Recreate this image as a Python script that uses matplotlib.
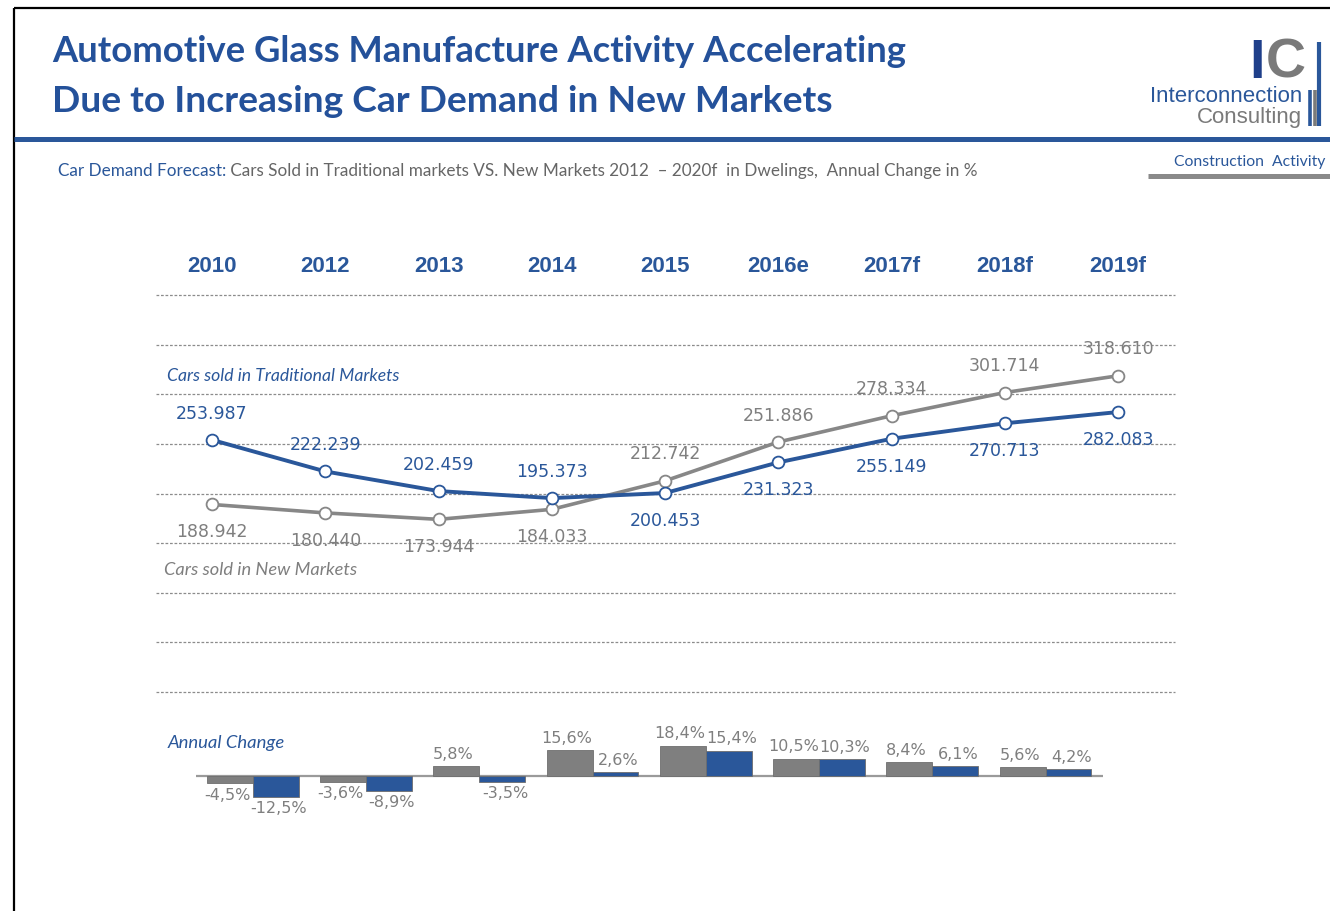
import matplotlib.pyplot as plt
from matplotlib.lines import Line2D
import numpy as np

plt.rcParams["font.family"] = ["DejaVu Sans"]

# ------------------------------------------------------------------
# Colours / fonts
# ------------------------------------------------------------------
BLUE = "#2A579A"
TITLE_BLUE = "#24519A"
GREY = "#878787"
BAR_GREY = "#7F7F7F"
TEXT_GREY = "#7F7F7F"
GRID_GREY = "#8C8C8C"
NARROW = ["Lato", "DejaVu Sans"]
SANS = ["Liberation Sans", "DejaVu Sans"]

# ------------------------------------------------------------------
# Data
# ------------------------------------------------------------------
YEARS = ["2010", "2012", "2013", "2014", "2015", "2016e", "2017f", "2018f", "2019f"]
TRADITIONAL = [253.987, 222.239, 202.459, 195.373, 200.453, 231.323, 255.149, 270.713, 282.083]
NEW_MARKETS = [188.942, 180.440, 173.944, 184.033, 212.742, 251.886, 278.334, 301.714, 318.610]
CHANGE_NEW = [-4.5, -3.6, 5.8, 15.6, 18.4, 10.5, 8.4, 5.6]
CHANGE_TRAD = [-12.5, -8.9, -3.5, 2.6, 15.4, 10.3, 6.1, 4.2]

W, H = 1330, 911


def fx(x):
    return x / W


def fy(y):
    return 1 - y / H


fig = plt.figure(figsize=(W / 100, H / 100), dpi=100)
fig.patch.set_facecolor("white")
renderer = fig.canvas.get_renderer()


def fit_width(texts, target_px):
    # scale the font size so the texts span target_px horizontally
    boxes = [t.get_window_extent(renderer) for t in texts]
    span = max(b.x1 for b in boxes) - min(b.x0 for b in boxes)
    k = target_px / span
    for t in texts:
        t.set_fontsize(t.get_fontsize() * k)


def hline(x0, x1, y, color, lw):
    fig.add_artist(Line2D([fx(x0), fx(x1)], [fy(y), fy(y)], transform=fig.transFigure,
                          color=color, linewidth=lw, solid_capstyle="butt"))


def vline(x, y0, y1, color, lw):
    fig.add_artist(Line2D([fx(x), fx(x)], [fy(y0), fy(y1)], transform=fig.transFigure,
                          color=color, linewidth=lw, solid_capstyle="butt"))


# frame + header rules
hline(14, W, 8, "black", 1.6)
vline(14, 8, H, "black", 1.6)
hline(14, W, 139, BLUE, 3.6)
hline(1148, W, 176, "#8A8A8A", 3.6)

# titles
tt1 = fig.text(fx(52), fy(51), "Automotive Glass Manufacture Activity Accelerating",
               family=NARROW, fontweight="bold", fontsize=27, color=TITLE_BLUE,
               va="center", ha="left")
tt2 = fig.text(fx(52), fy(101), "Due to Increasing Car Demand in New Markets",
               family=NARROW, fontweight="bold", fontsize=27, color=TITLE_BLUE,
               va="center", ha="left")
fit_width([tt1], 853)
fit_width([tt2], 780)

# subtitle with two colours
ax_dummy = fig.add_axes([0, 0, 1, 1], facecolor="none")
ax_dummy.set_axis_off()
st1 = fig.text(fx(58), fy(171), "Car Demand Forecast:", family=NARROW, fontsize=12.5,
               color=BLUE, va="center", ha="left")
st2 = ax_dummy.annotate(" Cars Sold in Traditional markets VS. New Markets 2012  \u2013 2020f  in Dwelings,  Annual Change in %",
                        xy=(1, 0), xycoords=st1, va="bottom", ha="left", family=NARROW,
                        fontsize=12.5, color="#666666", annotation_clip=False)
fit_width([st1, st2], 923)

ct = fig.text(fx(1325), fy(162), "Construction  Activity", family=NARROW, fontsize=12.5,
              color=BLUE, va="center", ha="right")
fit_width([ct], 152)

# logo
fig.text(fx(1249), fy(64), "I", family=SANS, fontweight="bold", fontsize=40,
         color="#1F3F8A", va="center", ha="left")
fig.text(fx(1306), fy(64), "C", family=SANS, fontweight="bold", fontsize=40,
         color="#7A7A7A", va="center", ha="right")
ic1 = fig.text(fx(1302), fy(97), "Interconnection", family=SANS, fontsize=14.5,
               color=BLUE, va="center", ha="right")
ic2 = fig.text(fx(1302), fy(118), "Consulting", family=SANS, fontsize=14.5,
               color="#7A7A7A", va="center", ha="right")
fit_width([ic1], 152)
ic2.set_fontsize(ic1.get_fontsize())
vline(1319, 42, 126, BLUE, 3.0)
vline(1310, 90, 126, BLUE, 2.6)
vline(1315, 90, 126, "#7A7A7A", 2.6)

# ------------------------------------------------------------------
# Line chart
# ------------------------------------------------------------------
x = np.arange(len(YEARS))
ax = fig.add_axes([fx(156), fy(692), fx(1175) - fx(156), fy(295) - fy(692)])
ax.set_xlim(-0.495, 8.503)
ax.set_ylim(0, 400)
ax.set_yticks(np.arange(0, 401, 50))
ax.yaxis.grid(True, color=GRID_GREY, linestyle=(0, (2.2, 1.4)), linewidth=0.9)
ax.tick_params(axis="y", left=False, labelleft=False)
ax.set_xticks(x)
ax.set_xticklabels(YEARS, fontsize=16, color=BLUE, fontweight="bold", family=SANS)
ax.tick_params(axis="x", bottom=False, labelbottom=False, top=True, labeltop=True,
               length=0, pad=13)
for s in ax.spines.values():
    s.set_visible(False)
for gl in ax.get_ygridlines():
    gl.set_clip_on(False)

ax.plot(x, NEW_MARKETS, color=GREY, linewidth=2.6, marker="o", markersize=8.5,
        markerfacecolor="white", markeredgecolor=GREY, markeredgewidth=1.3, zorder=3)
ax.plot(x, TRADITIONAL, color=BLUE, linewidth=2.8, marker="o", markersize=8.5,
        markerfacecolor="white", markeredgecolor=BLUE, markeredgewidth=1.3, zorder=4)

for i in range(len(YEARS)):
    for vals, other, col in ((TRADITIONAL, NEW_MARKETS, BLUE), (NEW_MARKETS, TRADITIONAL, TEXT_GREY)):
        above = vals[i] >= other[i]
        ax.annotate(f"{vals[i]:.3f}", (x[i], vals[i]), xytext=(0, 19 if above else -20),
                    textcoords="offset points", ha="center", va="center",
                    fontsize=12.5, color=col, zorder=5)

sl1 = ax.text(-0.40, 318, "Cars sold in Traditional Markets", fontsize=13, style="italic",
              color=BLUE, family=NARROW, va="center", ha="left")
sl2 = ax.text(-0.42, 123, "Cars sold in New Markets", fontsize=13, style="italic",
              color=TEXT_GREY, family=NARROW, va="center", ha="left")
fit_width([sl1], 232)
fit_width([sl2], 193)

# ------------------------------------------------------------------
# Annual change bars
# ------------------------------------------------------------------
bx = fig.add_axes([fx(156), fy(850), fx(1175) - fx(156), fy(700) - fy(850)], facecolor="none")
bx.set_xlim(-0.495, 8.503)
bx.set_ylim(-44.8, 46)
bx.set_axis_off()

pairs = np.arange(len(CHANGE_NEW)) + 0.36
bw = 0.405
bx.bar(pairs - bw / 2, CHANGE_NEW, width=bw, color=BAR_GREY, edgecolor="#6E6E6E",
       linewidth=0.6, zorder=2)
bx.bar(pairs + bw / 2, CHANGE_TRAD, width=bw, color=BLUE, edgecolor="#6E6E6E",
       linewidth=0.6, zorder=2)
bx.hlines(0, pairs[0] - bw - 0.1, pairs[-1] + bw + 0.1, color="#9A9A9A", linewidth=1.6, zorder=1)

for xs, vals, dx in ((pairs - bw / 2, CHANGE_NEW, -2), (pairs + bw / 2, CHANGE_TRAD, 2)):
    for xi, v in zip(xs, vals):
        bx.annotate(f"{v:.1f}%".replace(".", ","), (xi, v), xytext=(dx, 3 if v > 0 else -3),
                    textcoords="offset points", ha="center",
                    va="bottom" if v > 0 else "top", fontsize=11.5, color=TEXT_GREY)

at = bx.text(-0.39, 20, "Annual Change", fontsize=13, style="italic", color=BLUE,
             family=NARROW, va="center", ha="left")
fit_width([at], 117)

fig.savefig("out.png", dpi=100)
